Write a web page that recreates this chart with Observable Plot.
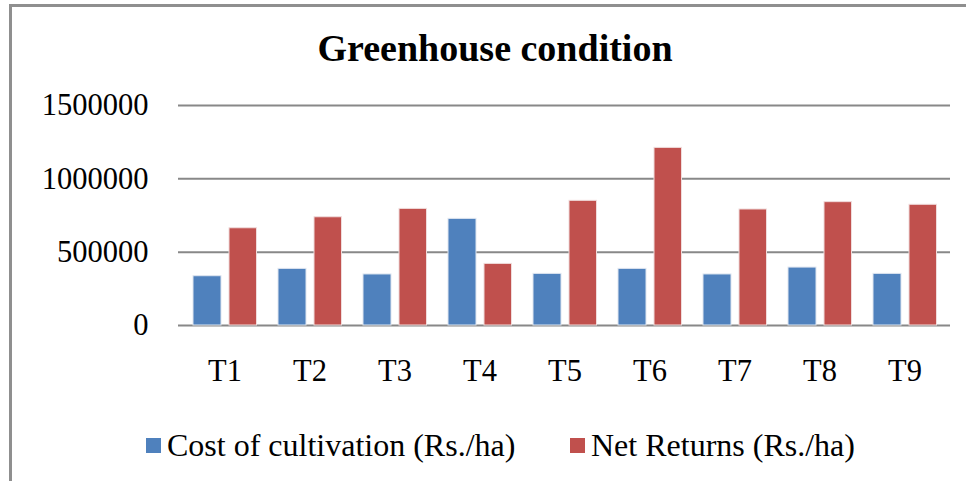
<!DOCTYPE html>
<html>
<head>
<meta charset="utf-8">
<script src="https://cdn.jsdelivr.net/npm/d3@7"></script>
<script src="https://cdn.jsdelivr.net/npm/@observablehq/plot@0.6"></script>
<style>
  html, body { margin: 0; padding: 0; background: #fff; }
  body { width: 966px; height: 481px; overflow: hidden; position: relative; font-family: "Liberation Serif", "Times New Roman", serif; }
  #frame { position: absolute; left: 9px; top: 4px; width: 1000px; height: 600px; border-left: 3px solid #8f8f8f; border-top: 3px solid #8f8f8f; box-sizing: border-box; }
  #title { position: absolute; left: 0; width: 990px; top: 26px; text-align: center; font-weight: bold; font-size: 38px; line-height: 44px; color: #000; }
  #chart { position: absolute; left: 0; top: 0; }
  #legend { position: absolute; top: 427px; left: 146px; font-size: 32px; line-height: 36px; color: #000; white-space: nowrap; }
  .item { position: absolute; top: 0; }
  .sw { position: absolute; top: 11px; width: 15px; height: 15px; }
  .lab { position: absolute; left: 21px; top: 0; }
</style>
</head>
<body>
<div id="frame"></div>
<div id="title">Greenhouse condition</div>
<div id="chart"></div>
<div id="legend"></div>
<script>
const categories = ["T1", "T2", "T3", "T4", "T5", "T6", "T7", "T8", "T9"];
const seriesNames = ["Cost of cultivation (Rs./ha)", "Net Returns (Rs./ha)"];
const costOfCultivation = [336000, 386000, 348000, 727000, 352000, 386000, 348000, 395000, 352000];
const netReturns = [663000, 738000, 795000, 420000, 850000, 1211000, 791000, 841000, 823000];
const yTicks = [0, 500000, 1000000, 1500000];
const seriesColors = ["#4F81BD", "#C0504D"];

const costRows = categories.map((c, i) => ({category: c, series: seriesNames[0], value: costOfCultivation[i]}));
const returnRows = categories.map((c, i) => ({category: c, series: seriesNames[1], value: netReturns[i]}));

const plot = Plot.plot({
  width: 966,
  height: 400,
  marginLeft: 178,
  marginRight: 16,
  marginTop: 105,
  marginBottom: 75,
  style: {fontFamily: '"Liberation Serif", "Times New Roman", serif', fontSize: "30px", color: "#000", background: "transparent", overflow: "visible"},
  x: {domain: categories, padding: 0, label: null},
  y: {domain: [0, 1500000], label: null},
  color: {domain: seriesNames, range: seriesColors},
  marks: [
    Plot.ruleY(yTicks, {stroke: "#888", strokeWidth: 2}),
    Plot.barY(costRows, {x: "category", y: "value", fill: "series", insetLeft: 11, insetRight: 46, stroke: "#dfe6f0", strokeWidth: 1}),
    Plot.barY(returnRows, {x: "category", y: "value", fill: "series", insetLeft: 47, insetRight: 10.5, stroke: "#f0dcdc", strokeWidth: 1}),
    Plot.axisY({ticks: yTicks, tickSize: 0, tickPadding: 30, tickFormat: d => String(d), label: null, fontSize: 30.5}),
    Plot.axisX({tickSize: 0, tickPadding: 34, label: null, fontSize: 30.5})
  ]
});
document.getElementById("chart").appendChild(plot);

const legend = document.getElementById("legend");
const offsets = [0, 424];
seriesNames.forEach((name, i) => {
  const item = document.createElement("div");
  item.className = "item";
  item.style.left = offsets[i] + "px";
  const sw = document.createElement("div");
  sw.className = "sw";
  sw.style.background = seriesColors[i];
  const lab = document.createElement("div");
  lab.className = "lab";
  lab.textContent = name;
  item.appendChild(sw);
  item.appendChild(lab);
  legend.appendChild(item);
});
</script>
</body>
</html>
